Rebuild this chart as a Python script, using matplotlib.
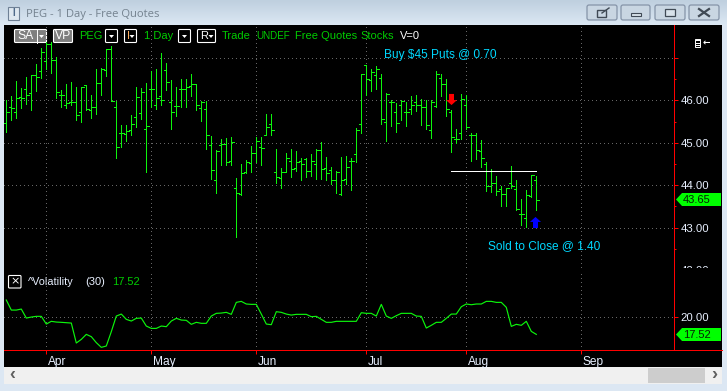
import numpy as np
import matplotlib
matplotlib.use("Agg")
import matplotlib.pyplot as plt
from matplotlib.patches import Rectangle, FancyBboxPatch, Polygon
from matplotlib.path import Path
from matplotlib.transforms import Bbox, ScaledTranslation

# ---------- data ----------
opens = [45.46,45.85,45.72,46.07,46.26,46.17,46.60,46.70,46.93,47.32,46.94,46.12,45.89,45.97,45.97,45.72,46.36,45.77,45.85,46.40,46.72,47.21,45.85,45.22,45.21,45.30,45.61,
         45.69,45.33,46.26,45.90,46.09,46.71,45.95,45.87,46.26,46.26,46.34,46.38,45.81,45.79,44.95,44.11,44.95,44.98,44.57,43.92,43.78,44.30,44.51,44.75,44.91,45.18,45.43,
         44.30,44.16,44.30,44.56,44.40,44.58,44.62,44.33,44.49,44.82,44.40,44.35,44.11,43.79,44.14,44.56,44.73,45.43,46.83,46.48,46.60,46.52,45.48,45.95,45.72,45.90,45.73,
         45.79,45.97,45.90,45.85,45.31,45.87,46.52,46.38,45.72,45.08,45.22,45.90,45.17,45.17,44.80,44.49,43.98,44.04,43.90,43.80,44.04,43.91,43.31,43.22,43.74,44.12]
highs = [46.01,46.10,46.46,46.30,46.55,46.60,46.86,47.23,47.37,47.37,47.03,46.24,46.39,46.42,46.32,46.32,46.36,46.13,46.75,46.77,47.21,47.27,45.99,45.42,45.42,45.65,46.31,
         46.28,46.40,46.69,46.75,47.11,46.87,46.48,46.32,46.50,46.50,46.62,46.38,45.98,45.98,45.16,44.83,45.08,45.12,45.13,44.16,44.50,44.59,44.92,45.14,45.13,45.68,45.68,
         44.85,44.41,44.76,44.85,44.80,44.63,44.65,44.73,44.85,45.01,44.67,44.43,44.33,44.66,44.68,44.63,45.34,46.62,46.83,46.74,46.81,46.62,46.17,46.01,45.94,46.01,45.96,
         46.10,46.12,46.03,46.01,46.01,46.69,46.62,46.50,45.77,45.32,46.15,46.12,45.22,45.23,45.06,44.54,44.38,44.21,43.98,43.93,44.45,44.11,43.67,43.88,44.24,44.21]
lows = [45.26,45.54,45.59,45.81,45.91,45.77,46.22,46.52,46.75,46.65,46.05,45.85,45.81,45.89,45.54,45.50,45.77,45.58,45.68,46.13,46.58,45.99,44.63,44.91,45.03,45.18,45.38,
        45.56,44.32,45.84,45.80,45.89,46.24,45.32,45.64,45.85,45.85,46.09,45.76,45.52,44.85,44.14,43.82,44.47,44.47,44.47,42.78,43.77,44.28,44.32,44.54,44.47,45.17,45.18,
        44.04,43.94,44.30,44.18,44.34,44.12,44.18,44.22,44.14,44.14,44.12,44.03,43.81,43.77,44.03,43.88,44.54,45.23,46.12,46.22,46.27,45.44,45.04,45.39,45.25,45.54,45.39,
        45.68,45.75,45.42,45.32,45.11,45.85,46.11,45.63,44.78,45.00,45.09,45.32,44.57,44.62,44.43,43.87,43.84,43.77,43.51,43.51,43.92,43.41,43.06,43.02,43.73,43.41]
closes = [45.72,45.83,46.06,46.05,46.12,46.60,46.56,47.15,47.32,46.95,46.20,46.12,45.93,45.97,45.65,46.32,45.79,45.85,46.40,46.73,47.21,45.99,44.89,45.22,45.28,45.43,46.07,
          46.20,45.40,46.26,46.05,46.00,46.44,45.72,45.87,46.26,46.31,46.38,45.89,45.95,45.18,44.35,44.80,44.98,44.54,45.01,43.81,44.28,44.55,44.75,45.05,44.87,45.36,45.31,
          44.18,44.30,44.63,44.37,44.54,44.49,44.33,44.58,44.82,44.37,44.28,44.11,44.30,44.11,44.42,44.56,45.30,46.62,46.50,46.67,46.75,45.56,46.14,45.95,45.46,45.98,45.72,
          45.88,45.90,45.85,45.41,45.97,46.61,46.38,45.79,45.14,45.08,46.02,45.38,45.17,44.83,44.63,43.98,44.04,43.85,43.80,43.92,43.98,43.43,43.33,43.77,44.23,43.65]
volatility = [22.34,20.93,20.93,21.07,19.81,19.95,20.05,20.05,18.97,19.35,19.25,19.21,19.16,19.11,16.31,16.82,17.52,17.20,16.36,15.70,15.89,17.90,20.09,20.37,19.63,19.39,19.77,
              19.81,18.69,18.36,18.36,18.69,18.60,19.39,19.77,19.53,19.49,18.93,19.21,19.07,19.07,20.09,20.47,20.51,20.61,20.33,22.01,22.15,21.78,21.73,21.73,20.37,18.97,18.88,
              20.70,20.61,20.37,20.23,20.33,20.33,20.33,20.00,20.05,19.63,19.21,19.21,19.35,19.35,19.35,19.35,19.35,20.56,20.47,20.47,20.09,21.73,20.09,19.77,20.14,20.47,20.47,
              20.47,20.09,20.05,18.41,18.79,19.21,19.21,19.77,20.37,20.37,21.40,21.78,21.68,21.78,21.78,22.15,22.15,22.01,22.01,21.31,18.64,18.93,18.79,19.35,17.94,17.52]
month_pos = [8, 29, 50, 72, 92, 115]
month_labels = ["Apr", "May", "Jun", "Jul", "Aug", "Sep"]
price_ticks = [42, 43, 44, 45, 46, 47]
price_labels = ["42.00", "43.00", "44.00", "45.00", "46.00", ""]
price_grid = [43, 44, 45, 46, 47]
price_minor = [42.5, 43.5, 44.5, 45.5, 46.5]
resistance = 44.33
entry_bar, entry_price = 89, 46.03
exit_bar, exit_price = 105.8, 43.12
last_price, last_vol = 43.65, 17.52

# ---------- styles ----------
W, H = 727, 391
plt.rcParams['font.family'] = ['Liberation Sans', 'DejaVu Sans']
GREEN = "#0cf50c"
DIM = "#00cc00"
CYAN = "#00d8ff"
LABEL = "#e8f0ff"
DOT = (0, (1, 3))
GRID = "#666666"
PX = 0.72

fig = plt.figure(figsize=(W / 100, H / 100), dpi=100)
fig.patch.set_facecolor("#dce7f3")

def px_axes(x0, y0, x1, y1, z=1):
    a = fig.add_axes([x0 / W, 1 - y1 / H, (x1 - x0) / W, (y1 - y0) / H], zorder=z)
    a.patch.set_visible(False)
    return a

# ---------- window chrome ----------
bg = px_axes(0, 0, W, H, 0)
bg.set_xlim(0, W); bg.set_ylim(H, 0); bg.axis("off")
grad = np.linspace(0, 1, 25)[:, None]
cmap = matplotlib.colors.LinearSegmentedColormap.from_list("t", ["#bfd0df", "#dbe7f3"])
bg.imshow(grad, extent=(0, W, 25, 0), cmap=cmap, aspect="auto", zorder=0)
bg.set_xlim(0, W); bg.set_ylim(H, 0)
bg.add_patch(Rectangle((4, 25), 718, 342, fc="black", ec="none", zorder=1))
bg.add_patch(Rectangle((4, 367), 718, 17, fc="#f0f0f0", ec="none", zorder=1))
bg.add_patch(Rectangle((648, 368), 57, 15, fc="#cdcdcd", ec="none", zorder=2))
bg.text(12, 375, "‹", color="#606060", fontsize=13, fontweight="bold", ha="center", va="center", zorder=3)
bg.text(714, 375, "›", color="#606060", fontsize=13, fontweight="bold", ha="center", va="center", zorder=3)
bg.plot([674, 722], [350, 350], color="#ff0000", lw=PX, zorder=3)

bg.text(26, 14, "PEG - 1 Day - Free Quotes", color="#74828f", fontsize=8.1, family="Open Sans", va="center", zorder=3)
bg.add_patch(Rectangle((8, 7), 11, 13, fc="#dfe8f0", ec="#6f8196", lw=0.8, zorder=3))
bg.text(13.5, 13.5, "I", color="#4f6a8a", fontsize=7, fontweight="bold", ha="center", va="center", zorder=4)
for x0, x1 in [(586, 618), (620, 651), (654, 686), (688, 720)]:
    bg.add_patch(FancyBboxPatch((x0 + 1, 5), x1 - x0 - 2, 15, boxstyle="round,pad=0,rounding_size=2",
                                fc="#c9d6e2", ec="#8594a8", lw=0.9, zorder=3))
bg.add_patch(Rectangle((597, 10), 9, 7, fc="none", ec="#404a55", lw=1, zorder=4))
bg.plot([602, 609], [13, 8], color="#404a55", lw=1, zorder=4)
bg.add_patch(Rectangle((631, 12.5), 10, 3, fc="#d8e2ea", ec="#404a55", lw=0.8, zorder=4))
bg.add_patch(Rectangle((665, 9), 10, 7, fc="#d8e2ea", ec="#404a55", lw=0.9, zorder=4))
bg.plot([699, 709], [9, 16], color="#404a55", lw=1.6, zorder=4)
bg.plot([699, 709], [16, 9], color="#404a55", lw=1.6, zorder=4)

# toolbar
def box(x0, x1, fc="black"):
    bg.add_patch(FancyBboxPatch((x0, 29.5), x1 - x0, 13, boxstyle="round,pad=0,rounding_size=1",
                                fc=fc, ec="white", lw=0.8, zorder=3))
def caret(x):
    bg.add_patch(Polygon([[x - 2.5, 35], [x + 2.5, 35], [x, 38]], fc="white", ec="none", zorder=5))

TB = 36
box(14.5, 46.5, "#7f7f7f"); caret(41.5)
bg.plot([37, 37], [30, 43], color="white", lw=0.7, zorder=4)
bg.text(17, TB, "SA", color="white", fontsize=8.7, va="center", zorder=4)
box(53.5, 72.5, "#7f7f7f")
bg.text(55, TB, "VP", color="white", fontsize=8.7, va="center", zorder=4)
bg.text(79, TB, "PEG", color=DIM, fontsize=8, va="center", zorder=4)
box(105.5, 117.5); caret(111.5)
box(124.5, 136.5); caret(132)
bg.text(127, TB, "I", color="#ffb060", fontsize=8, va="center", zorder=4)
bg.text(144, TB, "1 Day", color=DIM, fontsize=8, va="center", zorder=4)
box(178.5, 190.5); caret(184.5)
box(197.5, 215.5); caret(211)
bg.text(200, TB, "R", color="white", fontsize=8, va="center", zorder=4)
for x, s, fs in [(222, "Trade", 8), (256, "UNDEF", 7.1), (295, "Free Quotes", 8), (360, "Stocks", 8)]:
    bg.text(x, TB, s, color=DIM, fontsize=fs, va="center", zorder=4)
bg.text(400, TB, "V=0", color="white", fontsize=8, va="center", zorder=4)

# list/arrow icon
for yy in (40, 42.5, 45):
    bg.add_patch(Rectangle((695.5, yy), 4, 1, fc="white", ec="none", zorder=4))
bg.add_patch(Rectangle((695, 39), 5, 8, fc="none", ec="white", lw=0.7, zorder=4))
bg.text(706, 43, "←", color="white", fontsize=6.5, fontweight="bold", family="DejaVu Sans", ha="center", va="center", zorder=4)

# price tags
def tag(y0, y1, txt):
    ym = (y0 + y1) / 2
    bg.add_patch(Polygon([[676, ym], [682, y0], [721, y0], [721, y1], [682, y1]], fc="#00ff00", ec="none", zorder=3))
    bg.text(683, ym + 0.5, txt, color="#062006", fontsize=8, va="center", zorder=4)

tag(193, 206, f"{last_price:.2f}")
tag(328, 341, f"{last_vol:.2f}")

# ---------- axes ----------
XLIM = (-0.46, 133.54)
idx = np.arange(len(closes))
PY = 42.4
ax = px_axes(4, 25, 674, 271)
ax.set_xlim(*XLIM)
ax.set_ylim(46 - (271 - 100.3) / PY, 46 + (100.3 - 25) / PY)

vax = px_axes(4, 271, 674, 350)
vax.set_xlim(*XLIM)
VY = 7.13
vax.set_ylim(20 - (350 - 316.7) / VY, 20 + (316.7 - 271) / VY)

for a in (ax, vax):
    for s in ("left", "top", "bottom"):
        a.spines[s].set_visible(False)
    a.spines["right"].set_color("#ff0000")
    a.spines["right"].set_linewidth(PX)
    a.yaxis.tick_right()
    a.vlines(month_pos, *a.get_ylim(), color=GRID, lw=PX, linestyles=[DOT], zorder=1, antialiased=False)

# price pane
ax.hlines(price_grid, XLIM[0], XLIM[1], color=GRID, lw=PX, linestyles=[DOT], zorder=1, antialiased=False)
ax.vlines(idx, lows, highs, color=GREEN, lw=PX, zorder=3, antialiased=False)
ax.hlines(opens, idx - 0.5, idx, color=GREEN, lw=PX, zorder=3, antialiased=False)
ax.hlines(closes, idx, idx + 0.5, color=GREEN, lw=PX, zorder=3, antialiased=False)
ax.hlines(resistance, entry_bar, idx[-1], color="white", lw=PX, zorder=4, antialiased=False)

arrow = Path([(-.45, 1), (.45, 1), (.45, -.1), (1, -.1), (0, -1), (-1, -.1), (-.45, -.1), (-.45, 1)], closed=True)
up = Path(arrow.vertices * [1, -1], closed=True)
ax.plot([entry_bar], [entry_price], marker=arrow, ms=8, color="#ff0000", mec="none", ls="none", zorder=5)
ax.plot([exit_bar], [exit_price], marker=up, ms=8, color="#0000ff", mec="none", ls="none", zorder=5)

ax.text(75.6, 47.08, "Buy $45 Puts @ 0.70", color=CYAN, fontsize=8.55, va="center", zorder=5)
ax.text(96.4, 42.56, "Sold to Close @ 1.40", color=CYAN, fontsize=8.55, va="center", zorder=5)

ax.set_xticks([])
ax.set_yticks(price_ticks, price_labels)
ax.set_yticks(price_minor, minor=True)
ax.tick_params(axis="y", which="major", length=3, width=PX, color="#ff0000", labelcolor=LABEL, labelsize=8.2, pad=1.5)
ax.tick_params(axis="y", which="minor", length=1.6, width=PX, color="#ff0000")
clip = Bbox.from_extents(0, H - 268, W, H)
for t, v in zip(ax.yaxis.get_major_ticks(), price_ticks):
    if v == 42:
        t.tick2line.set_visible(False)
        t.label2.set_clip_on(True)
        t.label2.set_clip_box(clip)

# volatility pane
vax.hlines([20], XLIM[0], XLIM[1], color=GRID, lw=PX, linestyles=[DOT], zorder=1, antialiased=False)
vax.plot(idx, volatility, color=GREEN, lw=0.85, zorder=3)
vax.set_yticks([20], ["20.00"])
vax.tick_params(axis="y", length=3, width=PX, color="#ff0000", labelcolor=LABEL, labelsize=8.2, pad=1.5)
vax.spines["bottom"].set_visible(True)
vax.spines["bottom"].set_color("#ff0000")
vax.spines["bottom"].set_linewidth(PX)
vax.set_xticks(month_pos, month_labels, ha="left")
vax.tick_params(axis="x", length=3, width=PX, color="#ff0000", labelcolor=LABEL, labelsize=8.6, pad=1.5)
shift = ScaledTranslation(1.5 / 100, 0, fig.dpi_scale_trans)
for lab in vax.get_xticklabels():
    lab.set_transform(lab.get_transform() + shift)

# indicator legend
bg.add_patch(FancyBboxPatch((8.5, 275.5), 12.5, 12.5, boxstyle="round,pad=0,rounding_size=1", fc="black", ec="white", lw=0.8, zorder=3))
bg.text(14.7, 281.7, "×", color="white", fontsize=8, family="DejaVu Sans", ha="center", va="center", zorder=4)
bg.text(28, 282, "^Volatility", color=LABEL, fontsize=7.8, va="center", zorder=4)
bg.text(85.5, 282, "(30)", color=LABEL, fontsize=8, va="center", zorder=4)
bg.text(112, 282, f"{last_vol:.2f}", color=DIM, fontsize=8, va="center", zorder=4)

fig.savefig("out.png", dpi=100, facecolor=fig.get_facecolor())
